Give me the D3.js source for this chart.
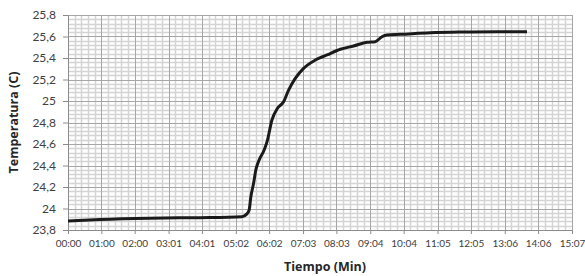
<!DOCTYPE html>
<html>
<head>
<meta charset="utf-8">
<script src="https://cdn.jsdelivr.net/npm/d3@7"></script>
<style>
  body { margin: 0; background: #fff; }
  .tick-x { font-family: Lato, sans-serif; font-size: 10px; fill: #404040; }
  .tick-y { font-family: Lato, sans-serif; font-size: 12px; fill: #404040; }
  .title { font-family: "Open Sans", sans-serif; font-size: 12.5px; font-weight: bold; fill: #262626; }
</style>
</head>
<body>
<svg id="chart" width="585" height="276"></svg>
<script>
// elapsed time in seconds, temperature in C
var seconds = [0, 58, 148, 238, 313, 322, 326, 329, 334, 338, 344, 353, 359, 367, 377, 388, 397, 409, 424, 445, 466, 490, 514, 538, 553, 565, 574, 598, 652, 711, 772, 826];
var temps = [23.884, 23.898, 23.91, 23.915, 23.924, 23.95, 23.986, 24.107, 24.234, 24.358, 24.451, 24.544, 24.637, 24.823, 24.932, 24.993, 25.102, 25.211, 25.304, 25.381, 25.428, 25.481, 25.512, 25.546, 25.552, 25.598, 25.614, 25.62, 25.635, 25.642, 25.645, 25.645];
var xTickLabels = ['00:00', '01:00', '02:00', '03:01', '04:01', '05:02', '06:02', '07:03', '08:03', '09:04', '10:04', '11:05', '12:05', '13:06', '14:06', '15:07'];
var yTicks = [23.8, 24, 24.2, 24.4, 24.6, 24.8, 25, 25.2, 25.4, 25.6, 25.8];

var margin = { top: 15, right: 13, bottom: 46, left: 68 },
  w = 585 - margin.left - margin.right,
  h = 276 - margin.top - margin.bottom;

var toSec = function(s) { var p = s.split(':'); return +p[0] * 60 + +p[1]; };
var xTickVals = xTickLabels.map(toSec);

var x = d3.scaleLinear().domain([0, xTickVals[xTickVals.length - 1]]).range([0, w]);
var y = d3.scaleLinear().domain([23.8, 25.8]).range([h, 0]);

var svg = d3.select('#chart')
  .append('g')
  .attr('transform', 'translate(' + margin.left + ',' + margin.top + ')');

// minor grid: five divisions per major step
var minorX = [], minorY = [];
for (var i = 0; i < xTickVals.length - 1; i++) {
  for (var k = 1; k < 5; k++) minorX.push(xTickVals[i] + (xTickVals[i + 1] - xTickVals[i]) * k / 5);
}
for (var j = 0; j < yTicks.length - 1; j++) {
  for (var m = 1; m < 5; m++) minorY.push(yTicks[j] + 0.2 * m / 5);
}

svg.append('g').selectAll('line').data(minorX).enter().append('line')
  .attr('x1', function(d) { return Math.round(x(d)) + 0.5; })
  .attr('x2', function(d) { return Math.round(x(d)) + 0.5; })
  .attr('y1', 0).attr('y2', h)
  .attr('stroke', '#d4d4d4').attr('stroke-width', 1.5);
svg.append('g').selectAll('line').data(minorY).enter().append('line')
  .attr('y1', function(d) { return Math.round(y(d)) + 0.5; })
  .attr('y2', function(d) { return Math.round(y(d)) + 0.5; })
  .attr('x1', 0).attr('x2', w)
  .attr('stroke', '#d4d4d4').attr('stroke-width', 1.5);

// major grid
svg.append('g').selectAll('line').data(xTickVals).enter().append('line')
  .attr('x1', function(d) { return Math.round(x(d)) + 0.5; })
  .attr('x2', function(d) { return Math.round(x(d)) + 0.5; })
  .attr('y1', 0).attr('y2', h)
  .attr('stroke', '#a6a6a6');
svg.append('g').selectAll('line').data(yTicks).enter().append('line')
  .attr('y1', function(d) { return Math.round(y(d)) + 0.5; })
  .attr('y2', function(d) { return Math.round(y(d)) + 0.5; })
  .attr('x1', 0).attr('x2', w)
  .attr('stroke', '#a6a6a6');

// x axis
var xAxis = d3.axisBottom(x)
  .tickValues(xTickVals)
  .tickSize(4)
  .tickPadding(6)
  .tickFormat(function(d, i) { return xTickLabels[i]; });
var gx = svg.append('g')
  .attr('transform', 'translate(0,' + h + ')')
  .call(xAxis);
gx.select('.domain').attr('stroke', '#8c8c8c');
gx.selectAll('.tick line').attr('stroke', '#8c8c8c');
gx.selectAll('.tick text').attr('class', 'tick-x').attr('font-family', null).attr('font-size', null);

// y axis
var yAxis = d3.axisLeft(y)
  .tickValues(yTicks)
  .tickSize(5)
  .tickPadding(7)
  .tickFormat(function(d) { return String(+d.toFixed(1)).replace('.', ','); });
var gy = svg.append('g').call(yAxis);
gy.select('.domain').attr('stroke', '#8c8c8c');
gy.selectAll('.tick line').attr('stroke', '#8c8c8c');
gy.selectAll('.tick text').attr('class', 'tick-y').attr('font-family', null).attr('font-size', null);

// temperature curve
var line = d3.line()
  .x(function(d, i) { return x(seconds[i]); })
  .y(function(d) { return y(d); })
  .curve(d3.curveMonotoneX);
svg.append('path')
  .datum(temps)
  .attr('fill', 'none')
  .attr('stroke', '#1a1a1a')
  .attr('stroke-width', 3)
  .attr('stroke-linejoin', 'round')
  .attr('d', line);

// axis titles
svg.append('text')
  .attr('class', 'title')
  .attr('text-anchor', 'middle')
  .attr('x', 257)
  .attr('y', h + 41)
  .text('Tiempo (Min)');
svg.append('text')
  .attr('class', 'title')
  .attr('text-anchor', 'middle')
  .attr('transform', 'translate(-50,' + (h / 2) + ') rotate(-90)')
  .text('Temperatura (C)');
</script>
</body>
</html>
